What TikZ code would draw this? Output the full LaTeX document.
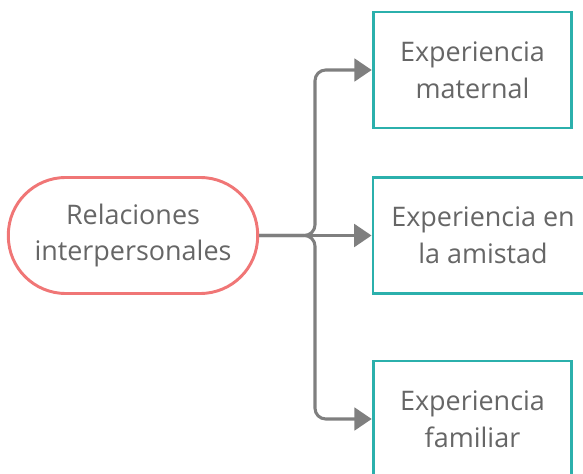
\documentclass[tikz,border=0pt]{standalone}
\usepackage{fontspec}
\setmainfont{Open Sans}
\usepackage{tikz}
\usetikzlibrary{arrows.meta,positioning}

\definecolor{pinkline}{HTML}{F07676}
\definecolor{tealline}{HTML}{2BB0AC}
\definecolor{greyline}{HTML}{7F7F7F}
\definecolor{greytext}{HTML}{666666}

\begin{document}
\begin{tikzpicture}[x=0.75pt,
            y=-0.75pt,
            >={Triangle[length=13pt,width=17pt]},
            font=\fontsize{20.2pt}{27.5pt}\selectfont,
            text=greytext,
            root/.style={draw=pinkline, line width=2.2pt, fill=white,
                         rounded corners=43pt, minimum width=187pt,
                         minimum height=87pt, align=center},
            leaf/.style={draw=tealline, line width=2.2pt, fill=white,
                         minimum width=149pt, minimum height=87pt,
                         align=center},
            conn/.style={->, draw=greyline, line width=2.3pt,
                         rounded corners=8pt}]

        \useasboundingbox (0,0) rectangle (583,474);

        \node[root] (rel) at (133,235.5) {Relaciones\\interpersonales};
        \node[leaf] (mat) at (472.5,70)  {Experiencia\\maternal};
        \node[leaf, minimum width=165pt] (ami) at (483,235.5) {Experiencia en\\la amistad};
        \node[leaf] (fam) at (472.5,419) {Experiencia\\familiar};

        \coordinate (trunk) at (315,0);

        \draw[conn] (rel.east) -| (trunk |- mat.west) -- (mat.west);
        \draw[conn] (rel.east) -- (ami.west);
        \draw[conn] (rel.east) -| (trunk |- fam.west) -- (fam.west);

    \end{tikzpicture}
\end{document}
